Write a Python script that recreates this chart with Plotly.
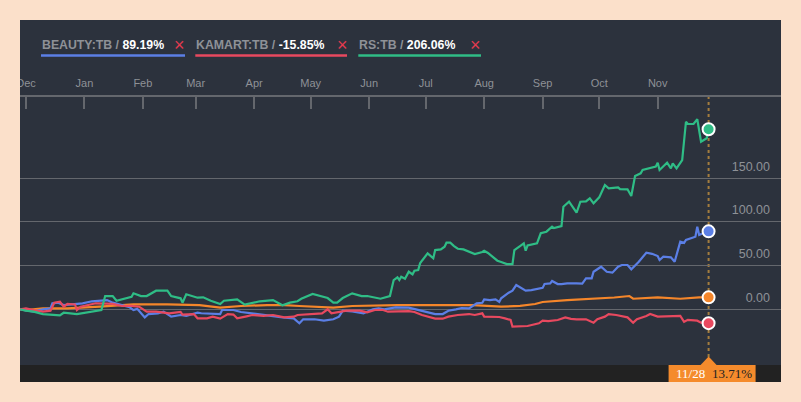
import pandas as pd
import plotly.graph_objects as go

# ---------------- data ----------------
start_date = "2016-11-28"

beauty_days = [0, 3, 7, 12, 16, 17, 20, 23, 28, 33, 38, 42, 46, 49, 53, 58, 60, 62, 66, 68, 73, 76, 80, 85, 88,
               94, 96, 102, 106, 107, 113, 117, 122, 131, 139, 145, 148, 150, 156, 161, 166, 169, 171, 176, 182,
               187, 190, 193, 199, 206, 211, 218, 220, 224, 227, 231, 234, 238, 240, 242, 245, 246, 249, 252, 254,
               255, 259, 261, 263, 266, 268, 271, 275, 277, 278, 281, 282, 285, 287, 290, 295, 298, 300, 303, 304,
               307, 308, 311, 314, 317, 319, 322, 324, 328, 332, 335, 338, 339, 341, 345, 347, 350, 352, 353, 358,
               359, 360, 362, 365]
beauty_vals = [0, -0.8, -2.7, 0, 1.1, 6.9, 7.5, 4.9, 5.5, 6.9, 9.2, 9.8, 10.6, 7.6, 4.9, 2.3, -0.8, 0.5, -9.2, -5.4,
               -4.6, -2.7, -8.4, -6.5, -7.5, -3.9, -4.5, -5.4, -5.4, -0.8, -0.8, -3.1, -4.6, -6.5, -9.2, -10.3, -16,
               -11.4, -11.4, -13, -11.4, -8.4, -1.6, -2.5, -4.6, 0, 1.0, 0, 2.3, 2.0, -0.8, -3.9, -5.4, -5.4, -1.6,
               0, 1.5, 1.0, 3.8, 6.9, 7.5, 11.4, 10.5, 11.4, 8.4, 12.6, 19, 21.3, 27.8, 24, 21.3, 22, 24, 24.5, 29,
               29.7, 32.4, 28.9, 28.9, 29.7, 29.7, 29.5, 35.5, 35.5, 43, 46.9, 48.7, 43, 41.9, 48.7, 50.7, 50.7,
               45.8, 54.5, 64.8, 63.5, 61, 56.4, 60.2, 59.5, 54.5, 77.3, 76, 79.3, 83, 94.5, 85, 87, 89.19]

kamart_days = [0, 3, 7, 12, 16, 18, 21, 23, 25, 29, 30, 32, 36, 40, 46, 49, 54, 59, 63, 67, 72, 79, 85, 86, 92, 94,
               99, 102, 106, 110, 113, 115, 120, 123, 129, 134, 140, 145, 147, 155, 160, 163, 165, 173, 180, 184,
               188, 192, 195, 206, 209, 213, 216, 220, 224, 227, 232, 238, 241, 245, 246, 250, 254, 257, 260, 261,
               264, 269, 275, 277, 280, 285, 289, 292, 295, 300, 304, 306, 310, 312, 316, 322, 325, 327, 332, 334,
               338, 343, 346, 350, 352, 354, 359, 361, 365]
kamart_vals = [0, 1.1, -0.8, -2.7, -1.5, 7.6, 8.7, 3, 6.1, 5.5, -0.8, 3, 4.9, 6.9, 6.5, 6.3, 3.8, 4, 3, -2.7, -2.7,
               -4.6, -3, -6, -5.4, -10.3, -10.3, -8.4, -10.7, -5.4, -6, -10.3, -8, -6.5, -7.5, -6.5, -9.2, -8.4,
               -6.5, -5.4, -4.6, 0, -4.6, -1.6, -1.5, -3.5, -0.8, -0.5, -2.7, -2, -3.1, -6.5, -8.4, -10.7, -10.7,
               -8.4, -6.5, -5.4, -6.5, -4.6, -8.4, -8.8, -8.8, -10.3, -12.2, -19.9, -19.9, -19.1, -16, -13, -13.5,
               -12.2, -9.2, -11, -11.4, -11.4, -15.3, -11.4, -8.4, -5.4, -6.5, -9.2, -15.3, -11.4, -7.6, -5.4, -8.4,
               -8.4, -7.6, -7.6, -14.2, -12, -13, -15.3, -15.85]

rs_days = [0, 3, 7, 12, 21, 23, 30, 38, 43, 45, 49, 51, 59, 60, 64, 67, 72, 78, 80, 85, 86, 88, 94, 97, 101, 106,
           108, 115, 119, 127, 134, 139, 143, 147, 149, 155, 158, 163, 166, 168, 171, 176, 181, 184, 191, 195, 196,
           198, 200, 201, 202, 204, 206, 208, 209, 211, 212, 213, 216, 219, 220, 223, 225, 226, 228, 230, 232, 235,
           238, 241, 245, 246, 248, 250, 253, 255, 258, 261, 262, 265, 267, 268, 269, 274, 276, 279, 282, 283, 287,
           288, 291, 293, 295, 297, 300, 302, 304, 307, 310, 312, 317, 318, 322, 324, 326, 329, 330, 337, 338, 339,
           343, 345, 346, 348, 350, 351, 353, 354, 357, 359, 361, 364, 365]
rs_vals = [0, -1.6, -2.7, -5.4, -6.9, -3.9, -5.4, -3.1, -0.8, 15.2, 15.2, 9.8, 14.4, 18.3, 15.2, 15.2, 21.3, 21.3,
           15.2, 12.6, 7.6, 17.2, 13.3, 13.7, 9.8, 6.1, 9.8, 11.4, 5.3, 9.2, 10.6, 4.6, 7.6, 9.2, 12.1, 17.5, 16,
           12.9, 7.6, 7.6, 12.9, 18.3, 15.2, 15.2, 12.1, 15.2, 15.2, 33.5, 36.6, 33.5, 37.3, 35, 43, 40, 44.2, 45,
           52.6, 55.6, 64, 58.4, 67.8, 68.6, 71.7, 76.2, 76.2, 72.4, 69.3, 68.6, 65.6, 63.3, 65.6, 67, 64.5, 61,
           55.6, 54.1, 51.8, 51.8, 67.8, 72.4, 75.5, 67, 73, 75.5, 87, 88.8, 94.5, 93, 95.3, 117.4, 123.1, 117,
           110.5, 123.1, 123.5, 127, 121.3, 128.1, 142.2, 138.4, 139.6, 137.5, 137.3, 129.6, 152.5, 155.6, 159.4,
           163.2, 167.7, 159.4, 167.7, 161.3, 167, 161.3, 167, 170.8, 214.6, 212, 212, 217.4, 191.8, 195.7, 206.06]

index_days = [0, 3, 12, 25, 42, 60, 78, 95, 106, 117, 131, 140, 148, 159, 166, 176, 188, 200, 210, 224, 240, 255,
              265, 273, 277, 290, 300, 307, 315, 323, 325, 338, 345, 350, 360, 365]
index_vals = [0, -0.8, 1.1, 1.0, 3.0, 5.7, 5.7, 4.9, 1.9, 3.8, 4.9, 4.9, 3.8, 3.0, 1.9, 3.8, 4.6, 4.9, 4.8, 4.9,
              4.9, 3.0, 4.0, 6.1, 8.4, 10.6, 11.5, 12.6, 13.5, 15.2, 12.1, 13.7, 13.0, 12.1, 13.7, 13.71]

series_names = ["BEAUTY:TB", "KAMART:TB", "RS:TB"]
index_name = "SET"

month_ticks = ["2016-12-01", "2017-01-01", "2017-02-01", "2017-03-01", "2017-04-01", "2017-05-01", "2017-06-01",
               "2017-07-01", "2017-08-01", "2017-09-01", "2017-10-01", "2017-11-01"]
month_labels = ["Dec", "Jan", "Feb", "Mar", "Apr", "May", "Jun", "Jul", "Aug", "Sep", "Oct", "Nov"]

y_ticks = [0, 50, 100, 150]

# ---------------- styling ----------------
COL_BEAUTY = "#5b7fe6"
COL_KAMART = "#e8495f"
COL_RS = "#2fbd86"
COL_INDEX = "#f5862a"
PANEL = "#2c323d"
STRIP = "#222222"
GRID = "#64676d"
TICKTXT = "#8e9197"
BORDER = "#fbe0ca"
W, H = 801, 402
ML, MR, MT, MB = 20, 20, 97, 37
PW, PH = W - ML - MR, H - MT - MB


def pxx(x):
    return (x - ML) / PW


def pxy(y):
    return (H - MB - y) / PH


t0 = pd.Timestamp(start_date)


def to_dates(days):
    return [t0 + pd.Timedelta(days=d) for d in days]


series = [
    (series_names[0], beauty_days, beauty_vals, COL_BEAUTY),
    (series_names[1], kamart_days, kamart_vals, COL_KAMART),
    (series_names[2], rs_days, rs_vals, COL_RS),
]

fig = go.Figure()

idx_dates = to_dates(index_days)
fig.add_trace(go.Scatter(x=idx_dates, y=index_vals, mode="lines", name=index_name,
                         line=dict(color=COL_INDEX, width=2.2), hoverinfo="skip", showlegend=False))
for name, d, v, c in series:
    fig.add_trace(go.Scatter(x=to_dates(d), y=v, mode="lines", name=name,
                             line=dict(color=c, width=2.2), hoverinfo="skip", showlegend=False))

last_date = idx_dates[-1]
for name, d, v, c in series + [(index_name, index_days, index_vals, COL_INDEX)]:
    fig.add_trace(go.Scatter(x=[to_dates(d)[-1]], y=[v[-1]], mode="markers",
                             marker=dict(size=12, color=c, line=dict(color="white", width=2)),
                             hoverinfo="skip", showlegend=False))

shapes = [
    dict(type="rect", xref="paper", yref="paper", x0=0, x1=1, y0=pxy(382), y1=pxy(20),
         fillcolor=PANEL, line=dict(width=0), layer="below"),
    dict(type="rect", xref="paper", yref="paper", x0=0, x1=1, y0=pxy(382), y1=0,
         fillcolor=STRIP, line=dict(width=0), layer="below"),
    dict(type="line", xref="x", yref="paper", x0=last_date, x1=last_date, y0=pxy(357), y1=1,
         line=dict(color="#a47d3e", width=2, dash="dot"), layer="below"),
    dict(type="rect", xref="x", xsizemode="pixel", xanchor=last_date, x0=-40, x1=47,
         yref="paper", y0=pxy(382), y1=0, fillcolor="#f58b2c", line=dict(width=0), layer="above"),
    dict(type="path", xref="x", xsizemode="pixel", xanchor=last_date, yref="paper", ysizemode="pixel",
         yanchor=0, path="M -8,0 L 0,8.5 L 8,0 Z", fillcolor="#f58b2c", line=dict(width=0), layer="above"),
    # left border strip drawn above so the first tick label is clipped like the original
    dict(type="rect", xref="paper", yref="paper", x0=pxx(0), x1=pxx(ML), y0=pxy(H), y1=pxy(0),
         fillcolor=BORDER, line=dict(width=0), layer="above"),
]

annotations = []
leg_start = [41, 195.3, 358.3]
leg_end = [185, 347, 481]
leg_x = [179, 342.5, 475.5]
for (name, d, v, c), xs, xe, xx in zip(series, leg_start, leg_end, leg_x):
    txt = ("<b><span style='color:%s'>%s / </span><span style='color:#ffffff'>%.2f%%</span></b>"
           % (TICKTXT, name, v[-1]))
    annotations.append(dict(xref="paper", yref="paper", x=pxx(xs), y=pxy(44.5), xanchor="left",
                            yanchor="middle", text=txt, showarrow=False, borderpad=0,
                            font=dict(family="Liberation Sans, Arial", size=12.3, color="#ffffff")))
    annotations.append(dict(xref="paper", yref="paper", x=pxx(xx), y=pxy(44.5), xanchor="center",
                            yanchor="middle", text="×", showarrow=False, borderpad=0,
                            font=dict(family="Liberation Sans, Arial", size=18, color="#e33a4f")))
    shapes.append(dict(type="line", xref="paper", yref="paper", x0=pxx(xs), x1=pxx(xe), y0=pxy(55.5),
                       y1=pxy(55.5), line=dict(color=c, width=2.5)))

annotations.append(dict(xref="x", yref="paper", x=last_date, y=pxy(373.5), xanchor="right", yanchor="middle",
                        xshift=-3, text="%d/%d" % (last_date.month, last_date.day), showarrow=False, borderpad=0,
                        font=dict(family="Liberation Serif, Times New Roman", size=13, color="#ffffff")))
annotations.append(dict(xref="x", yref="paper", x=last_date, y=pxy(373.5), xanchor="left", yanchor="middle",
                        xshift=2, text="%.2f%%" % index_vals[-1], showarrow=False, borderpad=0,
                        font=dict(family="Liberation Serif, Times New Roman", size=13, color="#222222")))

x_lo = t0 - pd.Timedelta(hours=4)
x_hi = t0 + pd.Timedelta(days=403.4)

fig.update_layout(
    width=W, height=H,
    margin=dict(l=ML, r=MR, t=MT, b=MB, pad=0),
    paper_bgcolor=BORDER,
    plot_bgcolor="rgba(0,0,0,0)",
    shapes=shapes,
    annotations=annotations,
    showlegend=False,
    hovermode=False,
    xaxis=dict(type="date", range=[x_lo, x_hi], side="top", tickvals=month_ticks, ticktext=month_labels,
               ticks="inside", ticklen=12, tickwidth=1.5, tickcolor=GRID, showline=True, linecolor=GRID,
               linewidth=1.5, showgrid=False, zeroline=False, ticklabelstandoff=4,
               tickfont=dict(family="Liberation Sans, Arial", size=11, color=TICKTXT), fixedrange=True),
    yaxis=dict(range=[-63.7, 242.9], side="right", tickvals=y_ticks, ticktext=["%.2f" % t for t in y_ticks],
               ticklabelposition="inside", ticklabelshift=-12, ticklabelstandoff=8, ticks="",
               showgrid=True, gridcolor=GRID, gridwidth=1.2, zeroline=False, showline=False,
               tickfont=dict(family="Liberation Sans, Arial", size=12.5, color=TICKTXT), fixedrange=True),
)

fig.write_html("out.html", config={"displayModeBar": False},
               post_script="document.body.style.margin='0';document.body.style.padding='0';"
                           "document.documentElement.style.overflow='hidden';")
